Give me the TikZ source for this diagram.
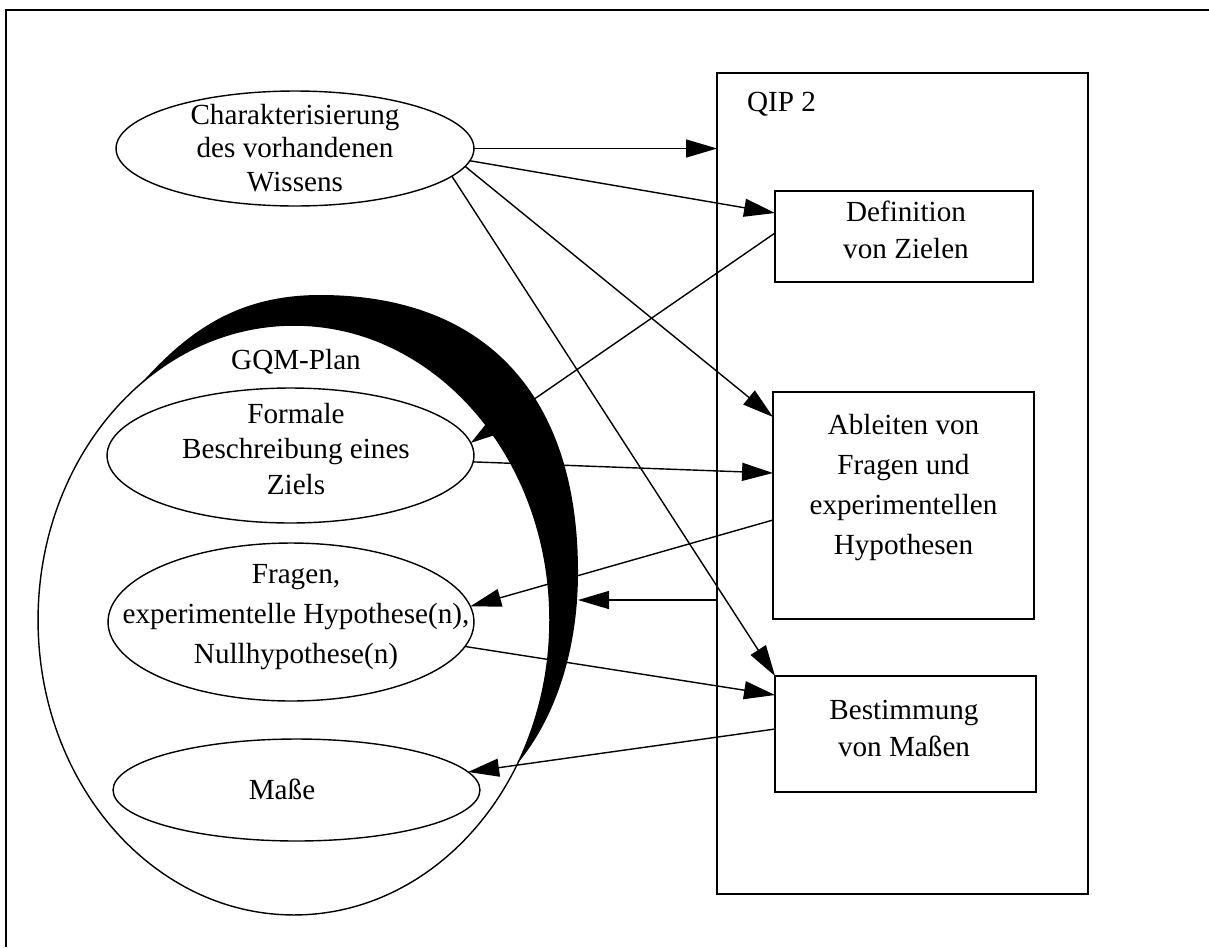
\documentclass[tikz,border=0pt]{standalone}
\usepackage{fontspec}
\setmainfont{Liberation Serif}
\usetikzlibrary{arrows.meta,calc,shapes.geometric}

\begin{document}
\begin{tikzpicture}[x=0.02cm,y=-0.02cm,
  line width=0.8pt,
  every node/.style={inner sep=0pt,outer sep=0pt},
  oval/.style={ellipse,draw},
  boxnode/.style={rectangle,draw},
  lbl/.style={align=center,font=\fontsize{16.6}{#1}\selectfont},
  lbl/.default=20,
  conn/.style={-{Triangle[length=0.62cm,width=0.36cm]}},
]
% page area
\path[fill=white,use as bounding box] (0,0) rectangle (1209,947);

% frame, open to the right and to the bottom
\draw (6,947) -- (6,10) -- (1209,10);

% GQM-Plan cluster: black crescent on its upper right side
\fill (140.7,383.8) .. controls (185.7,333.8) and (235,295) .. (320,295)
      .. controls (485.1,295) and (578,394.7) .. (578,572)
      .. controls (578,660) and (549.9,724.5) .. (517.9,763)
  -- plot[domain=0:155.8,samples=100,variable=\s]
      ({294+256*cos(29-\s)},{620+295*sin(29-\s)})
  -- cycle;
\node[oval,minimum width=10.24cm,minimum height=11.8cm] (gqm) at (294,620) {};
\node[lbl] (gqmlabel) at (296,362) {GQM-Plan};

% ellipses on the left
\node[oval,minimum width=7.16cm,minimum height=2.3cm] (char) at (295,148.5) {};
\node[lbl=19] (chartext) at (295,148) {Charakterisierung\\des vorhandenen\\Wissens};

\node[oval,minimum width=7.34cm,minimum height=2.7cm] (form) at (290.5,455.5) {};
\node[lbl=20] (formtext) at (296,449) {Formale\\Beschreibung eines\\Ziels};

\node[oval,minimum width=7.32cm,minimum height=3.16cm] (frag) at (291,622) {};
\node[lbl=22.8] (fragtext) at (296,617) {Fragen,\\experimentelle Hypothese(n),\\Nullhypothese(n)};

\node[oval,minimum width=7.34cm,minimum height=2.04cm] (mass) at (296.5,790) {};
\node[lbl] (masstext) at (282,789) {Maße};

% QIP 2 with its steps
\node[boxnode,minimum width=7.42cm,minimum height=16.42cm] (qip) at (902.5,483.5) {};
\node[lbl,anchor=base west] (qiptext) at (747,111) {QIP 2};

\node[boxnode,minimum width=5.16cm,minimum height=1.82cm] (def) at (904,236.5) {};
\node[lbl=21] (deftext) at (906,229.5) {Definition\\von Zielen};

\node[boxnode,minimum width=5.22cm,minimum height=4.54cm] (abl) at (903.5,505.5) {};
\node[lbl=22.8] (abltext) at (903.5,487.5) {Ableiten von\\Fragen und\\experimentellen\\Hypothesen};

\node[boxnode,minimum width=5.22cm,minimum height=2.32cm] (bes) at (905.5,734) {};
\node[lbl=21] (bestext) at (904,728.5) {Bestimmung\\von Maßen};

% connectors
\coordinate (gqmedge) at (578,600);
\draw[conn] (char.east) -- (qip.west |- char.east);
\draw[conn] (char.-4) -- ($(def.west)+(0,-23.5)$);
\draw[conn] (char.-6) -- ($(abl.west)+(0,-88.5)$);
\draw[conn] (char.-10) -- (bes.north west);
\draw[conn] ($(def.west)+(0,-3.5)$) -- (form.4);
\draw[conn] (form.-2) -- ($(abl.west)+(0,-32.5)$);
\draw[conn] ($(abl.west)+(0,14.5)$) -- (frag.5);
\draw[conn] (qip.west |- gqmedge) -- (gqmedge);
\draw[conn] (frag.-8) -- ($(bes.west)+(0,-39)$);
\draw[conn] ($(bes.west)+(0,-5)$) -- (mass.6);
\end{tikzpicture}
\end{document}
